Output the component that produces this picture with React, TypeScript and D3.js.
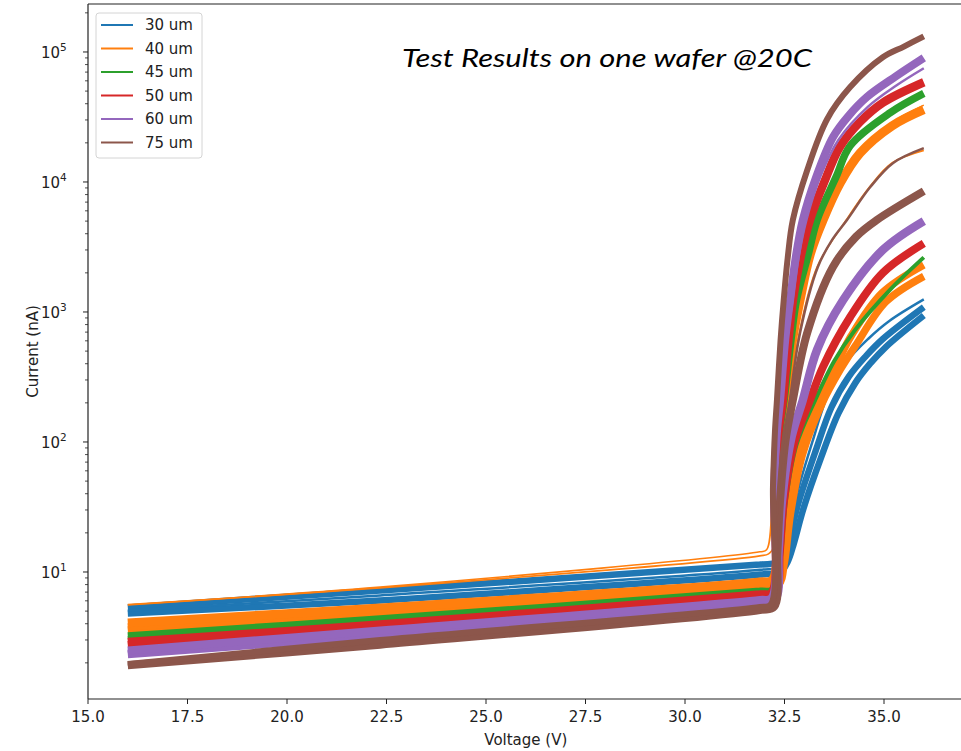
import React from 'react';
import * as d3 from 'd3';

// ---------- labels / ticks ----------
const sizeLabels = ['30 um', '40 um', '45 um', '50 um', '60 um', '75 um'];
const sizeColors = ['#1f77b4', '#ff7f0e', '#2ca02c', '#d62728', '#9467bd', '#8c564b'];
const xTicks = [15, 17.5, 20, 22.5, 25, 27.5, 30, 32.5, 35];
const yTickExps = [1, 2, 3, 4, 5];
const titleText = 'Test Results on one wafer @20C';

// ---------- data: [voltage (V), current (nA)] ----------
// 30 um
const um30Upper = [[16, 5.33], [22.34, 7.21], [31.88, 11.4], [32.3, 11.8], [32.5, 13.5], [32.62, 18], [32.85, 34], [33.28, 85], [33.68, 185], [34.12, 320], [34.55, 460], [34.97, 620], [36, 1090]];
const um30Lower = [[16, 4.8], [22.34, 6.04], [31.88, 9.57], [32.4, 10.0], [32.58, 12], [32.72, 16], [32.98, 31], [33.42, 76], [33.85, 165], [34.28, 285], [34.65, 400], [35.05, 540], [36, 940]];
const um30Thin = [[16, 5.05], [22.34, 6.6], [31.88, 10.4], [32.35, 10.9], [32.5, 13], [32.6, 18], [32.8, 38], [33.2, 100], [33.6, 235], [34.05, 410], [34.6, 620], [35.15, 860], [36, 1250]];
// 40 um
const um40High = [[16, 4.06], [22.34, 5.28], [31.88, 8.38], [32.2, 8.7], [32.3, 40], [32.4, 110], [32.54, 210], [32.7, 600], [32.89, 1230], [33.15, 2800], [33.47, 5100], [33.9, 9800], [34.4, 16700], [35.2, 27000], [36, 36000]];
const um40LowA = [[16, 3.78], [22.34, 5.01], [31.88, 8.01], [32.3, 8.4], [32.45, 14], [32.6, 35], [32.85, 90], [33.33, 210], [33.78, 380], [34.17, 650], [34.95, 1400], [36, 2300]];
const um40LowB = [[16, 3.58], [22.34, 4.75], [31.88, 7.67], [32.35, 8.0], [32.5, 12], [32.65, 28], [32.95, 80], [33.45, 200], [33.9, 360], [34.3, 560], [35.05, 1200], [36, 1880]];
const um40TopA = [[16, 5.58], [22.34, 7.55], [31.88, 13.3], [32.1, 13.8], [32.25, 16], [32.4, 45], [32.62, 210], [32.87, 690], [33.32, 2230], [34.05, 5100], [34.63, 9100], [35.2, 14000], [36, 17500]];
const um40TopB = [[16, 5.62], [22.34, 7.65], [31.88, 14.3], [32.05, 14.8], [32.2, 45], [32.32, 150], [32.5, 330], [32.72, 1230], [33.0, 2800], [33.35, 5100], [33.85, 10500], [34.5, 19000], [35.3, 30000], [36, 39000]];
// 45 um
const um45High = [[16, 3.22], [22.34, 4.35], [31.88, 7.1], [32.2, 7.3], [32.28, 35], [32.38, 120], [32.49, 210], [32.66, 600], [32.8, 1230], [33.1, 2800], [33.32, 5100], [33.8, 11000], [34.15, 19000], [35.15, 34000], [36, 48000]];
const um45Low = [[16, 3.1], [22.34, 4.2], [31.88, 7.0], [32.3, 7.4], [32.42, 14], [32.54, 36], [32.8, 95], [33.27, 210], [33.75, 420], [34.27, 725], [35.15, 1480], [36, 2630]];
// 50 um
const um50High = [[16, 2.89], [22.34, 3.94], [31.88, 6.71], [32.18, 6.9], [32.26, 40], [32.35, 120], [32.46, 210], [32.6, 620], [32.71, 1230], [32.9, 2600], [33.14, 5100], [33.5, 10000], [33.89, 18600], [34.4, 29000], [34.97, 40700], [36, 58500]];
const um50Low = [[16, 2.74], [22.34, 3.81], [31.88, 6.48], [32.28, 6.9], [32.38, 14], [32.49, 36], [32.75, 100], [33.14, 210], [33.47, 380], [34.15, 915], [34.97, 2000], [36, 3370]];
// 60 um
const um60High = [[16, 2.49], [22.34, 3.55], [31.88, 6.1], [32.17, 6.3], [32.24, 45], [32.31, 120], [32.39, 210], [32.52, 620], [32.64, 1230], [32.78, 2600], [32.96, 5100], [33.3, 11000], [33.72, 22200], [34.1, 32000], [34.57, 45000], [35.3, 65000], [36, 90000]];
const um60Thin = [[16, 2.42], [22.34, 3.4], [31.88, 5.93], [32.18, 6.1], [32.26, 40], [32.34, 120], [32.43, 210], [32.57, 620], [32.7, 1230], [32.85, 2600], [33.05, 5100], [33.4, 11000], [33.85, 21000], [34.6, 38000], [35.3, 55000], [36, 75000]];
const um60Low = [[16, 2.34], [22.34, 3.27], [31.88, 5.8], [32.27, 6.2], [32.35, 14], [32.44, 36], [32.68, 110], [32.96, 210], [33.32, 513], [33.97, 1230], [34.97, 3000], [36, 5000]];
// 75 um
const um75High = [[16, 1.96], [22.34, 3.0], [31.88, 5.38], [32.15, 5.6], [32.21, 45], [32.26, 120], [32.31, 210], [32.4, 600], [32.48, 1230], [32.58, 2600], [32.71, 5100], [33.07, 12300], [33.57, 30400], [34.15, 53700], [34.97, 91000], [35.5, 110000], [36, 132000]];
const um75Mid = [[16, 1.93], [22.34, 2.87], [31.88, 5.24], [32.2, 5.5], [32.3, 13], [32.42, 45], [32.64, 210], [32.89, 690], [33.34, 2230], [33.7, 3600], [34.07, 5100], [34.65, 9100], [35.23, 14000], [36, 18200]];
const um75Low = [[16, 1.92], [22.34, 2.76], [31.88, 5.1], [32.24, 5.4], [32.32, 14], [32.39, 36], [32.52, 100], [32.71, 210], [33.07, 690], [33.72, 2230], [34.3, 3800], [34.82, 5100], [36, 8500]];

// table of curves (size index, data, stroke width) in drawing order
const curves = [
  { s: 0, d: um30Lower, w: 6.5 },
  { s: 0, d: um30Upper, w: 6.5 },
  { s: 0, d: um30Thin, w: 2.5 },
  { s: 1, d: um40LowB, w: 7.5 },
  { s: 1, d: um40LowA, w: 7.5 },
  { s: 1, d: um40High, w: 9 },
  { s: 1, d: um40TopA, w: 1.6 },
  { s: 1, d: um40TopB, w: 1.6 },
  { s: 2, d: um45Low, w: 4 },
  { s: 2, d: um45High, w: 7.5 },
  { s: 3, d: um50Low, w: 8 },
  { s: 3, d: um50High, w: 8.5 },
  { s: 4, d: um60Low, w: 8.5 },
  { s: 4, d: um60Thin, w: 2.5 },
  { s: 4, d: um60High, w: 8 },
  { s: 5, d: um75Low, w: 8 },
  { s: 5, d: um75Mid, w: 2.5 },
  { s: 5, d: um75High, w: 6 },
];

const W = 961;
const H = 751;
const M = { left: 88, top: 4, right: 963.6, bottom: 699 };
const FONT = "'DejaVu Sans', sans-serif";

export default function App() {
  const x = d3.scaleLinear().domain([15, 37]).range([M.left, M.right]);
  const y = d3.scaleLog().domain([Math.pow(10, 0.023), Math.pow(10, 5.369)]).range([M.bottom, M.top]);
  const line = d3
    .line<number[]>()
    .x((p) => x(p[0]))
    .y((p) => y(p[1]))
    .curve(d3.curveCatmullRom.alpha(0.5));

  const minor: number[] = [];
  for (let e = 0; e <= 5; e++) {
    for (let m = 2; m <= 9; m++) {
      const v = m * Math.pow(10, e);
      if (v >= y.domain()[0] && v <= y.domain()[1]) minor.push(v);
    }
  }

  const legendRows = [25, 48.5, 72, 95.5, 119, 142.5];

  return (
    <svg
      width={W}
      height={H}
      style={{ position: 'absolute', left: 0, top: 0, background: '#fff' }}
      fontFamily={FONT}
    >
      <rect x={0} y={0} width={W} height={H} fill="#fff" />
      <defs>
        <clipPath id="plot">
          <rect x={M.left} y={M.top} width={M.right - M.left} height={M.bottom - M.top} />
        </clipPath>
      </defs>

      <g clipPath="url(#plot)">
        {curves.map((c, i) => (
          <path
            key={i}
            d={line(c.d) || ''}
            fill="none"
            stroke={sizeColors[c.s]}
            strokeWidth={c.w}
            strokeLinejoin="round"
          />
        ))}
      </g>

      {/* spines */}
      <line x1={M.left} x2={M.left} y1={M.top} y2={M.bottom} stroke="#222" strokeWidth={1.2} />
      <line x1={M.left} x2={M.right} y1={M.bottom} y2={M.bottom} stroke="#222" strokeWidth={1.2} />
      <line x1={M.left} x2={M.right} y1={M.top} y2={M.top} stroke="#222" strokeWidth={1.2} />
      <line x1={M.right} x2={M.right} y1={M.top} y2={M.bottom} stroke="#222" strokeWidth={1.2} />

      {/* x ticks */}
      {xTicks.map((t) => (
        <g key={t}>
          <line x1={x(t)} x2={x(t)} y1={M.bottom} y2={M.bottom + 5} stroke="#222" strokeWidth={1} />
          <text x={x(t)} y={M.bottom + 23} fontSize={15} textAnchor="middle" fill="#222">
            {t.toFixed(1)}
          </text>
        </g>
      ))}

      {/* y ticks */}
      {minor.map((v) => (
        <line key={'m' + v} x1={M.left - 3} x2={M.left} y1={y(v)} y2={y(v)} stroke="#222" strokeWidth={0.8} />
      ))}
      {yTickExps.map((e) => {
        const v = Math.pow(10, e);
        return (
          <g key={e}>
            <line x1={M.left - 5} x2={M.left} y1={y(v)} y2={y(v)} stroke="#222" strokeWidth={1} />
            <text x={M.left - 28} y={y(v) + 6} fontSize={15} textAnchor="end" fill="#222">
              10
            </text>
            <text x={M.left - 28} y={y(v) - 1} fontSize={10.5} textAnchor="start" fill="#222">
              {e}
            </text>
          </g>
        );
      })}

      {/* axis labels */}
      <text x={(M.left + M.right) / 2} y={745} fontSize={15} textAnchor="middle" fill="#222">
        Voltage (V)
      </text>
      <text
        transform={`translate(38, ${(M.top + M.bottom) / 2}) rotate(-90)`}
        fontSize={15}
        textAnchor="middle"
        fill="#222"
      >
        Current (nA)
      </text>

      {/* legend */}
      <rect x={96} y={13} width={106} height={145} rx={3} fill="#fff" fillOpacity={0.85} stroke="#d4d4d4" strokeWidth={1} />
      {sizeLabels.map((lab, i) => (
        <g key={lab}>
          <line x1={101} x2={133} y1={legendRows[i]} y2={legendRows[i]} stroke={sizeColors[i]} strokeWidth={2} />
          <text x={145} y={legendRows[i]} fontSize={15} dominantBaseline="central" fill="#222">
            {lab}
          </text>
        </g>
      ))}

      {/* annotation */}
      <text
        x={402}
        y={67}
        fontFamily="Lato, 'Open Sans', sans-serif"
        fontStyle="italic"
        fontSize={25}
        textLength={410}
        lengthAdjust="spacingAndGlyphs"
        fill="#000"
      >
        {titleText}
      </text>
    </svg>
  );
}
